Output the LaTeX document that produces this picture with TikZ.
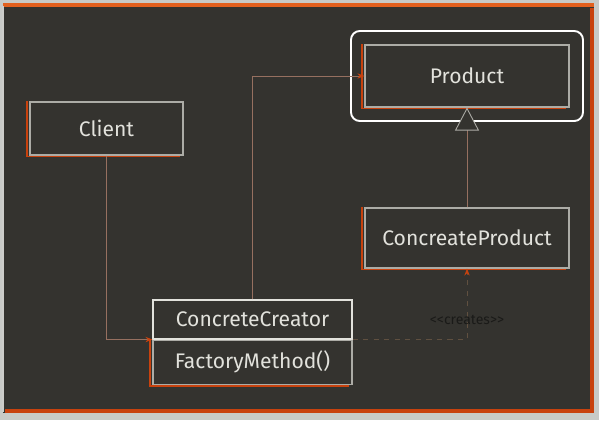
\documentclass[tikz,border=0pt]{standalone}
\usepackage{fontspec}
\setmainfont{Fira Sans}
\usetikzlibrary{arrows.meta,positioning,fit}
\definecolor{panelbg}{RGB}{52,51,47}
\definecolor{outerbg}{RGB}{200,202,199}
\definecolor{accent}{RGB}{200,66,14}
\definecolor{edgeorange}{RGB}{226,96,30}
\definecolor{boxgray}{RGB}{172,172,166}
\definecolor{labelwhite}{RGB}{226,226,220}
\definecolor{wire}{RGB}{150,112,96}
\definecolor{dashwire}{RGB}{96,80,64}
\definecolor{creategray}{RGB}{26,26,24}

\begin{document}
\begin{tikzpicture}[
    x=0.02cm, y=-0.02cm,
    umlbox/.style={rectangle, draw=boxgray, line width=0.6pt,
        text=labelwhite, font=\fontsize{12}{14}\selectfont,
        minimum width=4.08cm, minimum height=1.22cm, inner sep=0pt},
    umlpart/.style={umlbox, minimum width=3.98cm},
    selbox/.style={rectangle, draw=white, line width=1.1pt, rounded corners=5pt},
    wireline/.style={draw=wire, line width=0.5pt},
    >={Stealth[length=4pt, width=3pt, color=accent]}
]
\useasboundingbox (0,0) rectangle (599,420);
% panel
\fill[outerbg] (0,0) rectangle (599,420);
\fill[panelbg] (3,5) rectangle (594,413);
\draw[edgeorange, line width=2pt] (3,5) -- (594,5);
\draw[accent, line width=2.5pt] (592,8) -- (592,411) -- (5,411);
\draw[boxgray!60, line width=1pt] (3,6) -- (3,412);

% classes
\node[umlbox, minimum width=3.06cm, minimum height=1.06cm] (client) at (106.5,128.5) {Client};
\node[umlbox, minimum height=1.24cm] (product) at (467,76) {Product};
\node[umlbox, minimum height=1.2cm] (cprod) at (467,238) {ConcreateProduct};
\node[umlpart, minimum height=0.78cm, draw=labelwhite] (ccname) at (252.5,319.5) {ConcreteCreator};
\node[umlpart, minimum height=0.88cm, below=0pt of ccname] (ccmeth) {FactoryMethod()};
\node[selbox, fit=(product), inner sep=0.27cm] (sel) {};

% orange accents
\foreach \n in {client,product,cprod,ccmeth}
    \draw[accent, line width=1pt] ([xshift=-1.5pt]\n.north west) -- ([xshift=-1.5pt, yshift=-0.6pt]\n.south west) -- ([xshift=-2pt, yshift=-0.6pt]\n.south east);

% connectors
\draw[wireline, ->] (client.south) |- (ccmeth.north west);
\draw[wireline, ->] (ccname.north) |- (product.west);
\draw[wireline, -{Triangle[open, length=0.46cm, width=0.48cm, fill=panelbg, color=boxgray]}] (cprod.north) -- (product.south);
\draw[draw=dashwire, line width=0.5pt, dashed, ->] (ccmeth.north east) -| (cprod.south)
    node[pos=0.64, text=creategray, font=\fontsize{8}{9}\selectfont] {{<}{<}creates{>}{>}};
\end{tikzpicture}
\end{document}
